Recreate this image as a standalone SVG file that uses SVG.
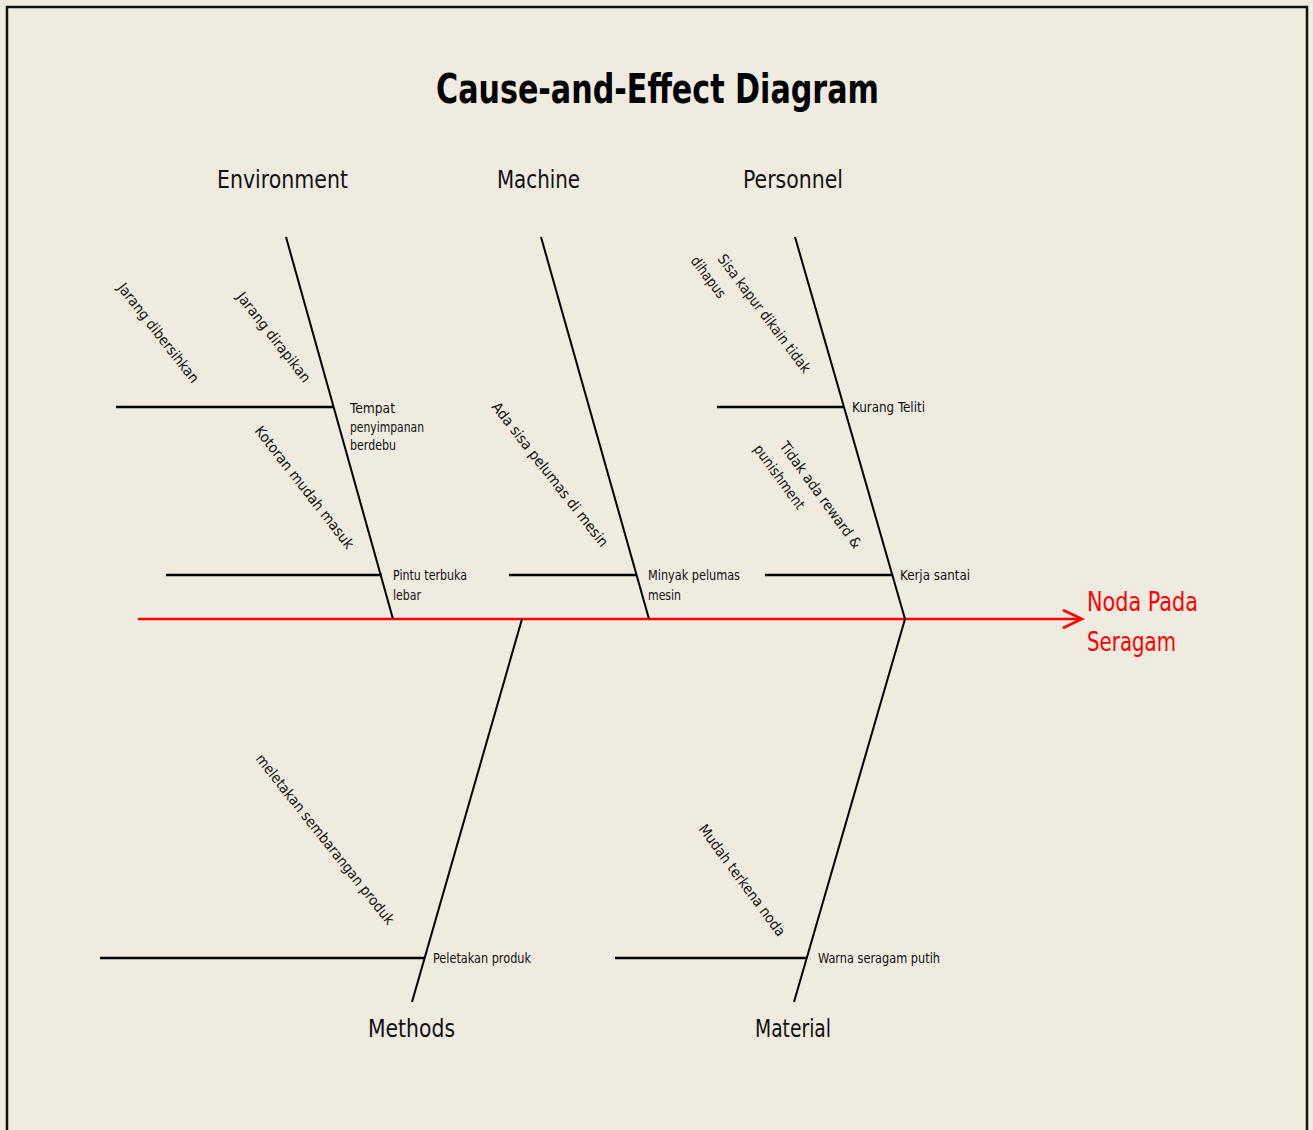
<svg xmlns="http://www.w3.org/2000/svg" width="1313" height="1130" viewBox="0 0 1313 1130">
<defs>
<style>
.bg{fill:#efebe0}
.frame{fill:#efebe0;stroke:#111;stroke-width:2.5}
.bone{stroke:#000;stroke-width:2;fill:none}
.sub{stroke:#000;stroke-width:2.5;fill:none}
.spine{stroke:#ff0000;stroke-width:2.5;fill:none}
.title{font-family:"DejaVu Sans Condensed","DejaVu Sans",sans-serif;font-weight:bold;font-size:40px;fill:#000}
.cat{font-family:"DejaVu Sans Condensed","DejaVu Sans",sans-serif;font-size:25px;fill:#111}
.lbl{font-family:"DejaVu Sans Condensed","DejaVu Sans",sans-serif;font-size:14.5px;fill:#111}
.rot{font-family:"DejaVu Sans Condensed","DejaVu Sans",sans-serif;font-size:14.5px;fill:#111}
.effect{font-family:"DejaVu Sans Condensed","DejaVu Sans",sans-serif;font-size:27px;fill:#ff0000}
</style>
</defs>
<rect class="bg" x="0" y="0" width="1313" height="1130"/>
<rect class="frame" x="7" y="7" width="1300" height="1140"/>
<text class="title" x="436" y="103" textLength="443" lengthAdjust="spacingAndGlyphs">Cause-and-Effect Diagram</text>

<g id="connectors">
<line class="spine" x1="138" y1="619" x2="1081" y2="619"/>
<polyline class="spine" points="1063,610 1082,619 1063,628" stroke-width="3"/>
<line class="bone" x1="286" y1="237" x2="393" y2="619"/>
<line class="bone" x1="541" y1="237" x2="649" y2="619"/>
<line class="bone" x1="795" y1="237" x2="905" y2="619"/>
<line class="bone" x1="522" y1="619" x2="412" y2="1002"/>
<line class="bone" x1="905" y1="619" x2="794" y2="1002"/>
<line class="sub" x1="116" y1="407" x2="333" y2="407"/>
<line class="sub" x1="166" y1="575" x2="382" y2="575"/>
<line class="sub" x1="509" y1="575" x2="637" y2="575"/>
<line class="sub" x1="717" y1="407" x2="844" y2="407"/>
<line class="sub" x1="765" y1="575" x2="892" y2="575"/>
<line class="sub" x1="100" y1="958" x2="424" y2="958"/>
<line class="sub" x1="615" y1="958" x2="806" y2="958"/>
</g>

<g id="environment">
<text class="cat" x="217" y="188" textLength="131" lengthAdjust="spacingAndGlyphs">Environment</text>
<text class="lbl" x="350" y="413" textLength="45" lengthAdjust="spacingAndGlyphs">Tempat</text>
<text class="lbl" x="350" y="432" textLength="74" lengthAdjust="spacingAndGlyphs">penyimpanan</text>
<text class="lbl" x="350" y="450" textLength="46" lengthAdjust="spacingAndGlyphs">berdebu</text>
<text class="lbl" x="393" y="580" textLength="74" lengthAdjust="spacingAndGlyphs">Pintu terbuka</text>
<text class="lbl" x="393" y="600" textLength="28" lengthAdjust="spacingAndGlyphs">lebar</text>
<text class="rot" x="117" y="288" transform="rotate(52 117 288)" textLength="122" lengthAdjust="spacingAndGlyphs">Jarang dibersihkan</text>
<text class="rot" x="236" y="297" transform="rotate(52 236 297)" textLength="110" lengthAdjust="spacingAndGlyphs">Jarang dirapikan</text>
<text class="rot" x="254" y="431" transform="rotate(52 254 431)" textLength="151" lengthAdjust="spacingAndGlyphs">Kotoran mudah masuk</text>
</g>

<g id="machine">
<text class="cat" x="497" y="188" textLength="83" lengthAdjust="spacingAndGlyphs">Machine</text>
<text class="lbl" x="648" y="580" textLength="92" lengthAdjust="spacingAndGlyphs">Minyak pelumas</text>
<text class="lbl" x="648" y="600" textLength="33" lengthAdjust="spacingAndGlyphs">mesin</text>
<text class="rot" x="491" y="407" transform="rotate(52 491 407)" textLength="179" lengthAdjust="spacingAndGlyphs">Ada sisa pelumas di mesin</text>
</g>

<g id="personnel">
<text class="cat" x="743" y="188" textLength="100" lengthAdjust="spacingAndGlyphs">Personnel</text>
<text class="lbl" x="852" y="412" textLength="73" lengthAdjust="spacingAndGlyphs">Kurang Teliti</text>
<text class="lbl" x="900" y="580" textLength="70" lengthAdjust="spacingAndGlyphs">Kerja santai</text>
<text class="rot" x="717" y="259" transform="rotate(53 717 259)" textLength="144" lengthAdjust="spacingAndGlyphs">Sisa kapur dikain tidak</text>
<text class="rot" x="690" y="261" transform="rotate(53 690 261)" textLength="48" lengthAdjust="spacingAndGlyphs">dihapus</text>
<text class="rot" x="779" y="446" transform="rotate(54 779 446)" textLength="128" lengthAdjust="spacingAndGlyphs">Tidak ada reward &amp;</text>
<text class="rot" x="753" y="449" transform="rotate(54 753 449)" textLength="76" lengthAdjust="spacingAndGlyphs">punishment</text>
</g>

<g id="methods">
<text class="cat" x="368" y="1037" textLength="87" lengthAdjust="spacingAndGlyphs">Methods</text>
<text class="lbl" x="433" y="963" textLength="98" lengthAdjust="spacingAndGlyphs">Peletakan produk</text>
<text class="rot" x="255" y="759" transform="rotate(51.5 255 759)" textLength="213" lengthAdjust="spacingAndGlyphs">meletakan sembarangan produk</text>
</g>

<g id="material">
<text class="cat" x="755" y="1037" textLength="76" lengthAdjust="spacingAndGlyphs">Material</text>
<text class="lbl" x="818" y="963" textLength="122" lengthAdjust="spacingAndGlyphs">Warna seragam putih</text>
<text class="rot" x="698" y="829" transform="rotate(53.5 698 829)" textLength="135" lengthAdjust="spacingAndGlyphs">Mudah terkena noda</text>
</g>

<g id="effect">
<text class="effect" x="1087" y="611" textLength="111" lengthAdjust="spacingAndGlyphs">Noda Pada</text>
<text class="effect" x="1087" y="651" textLength="89" lengthAdjust="spacingAndGlyphs">Seragam</text>
</g>
</svg>
